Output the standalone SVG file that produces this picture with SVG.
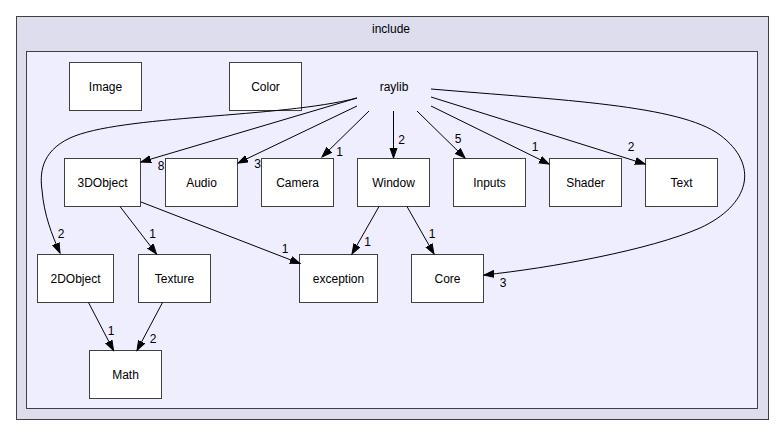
<svg xmlns="http://www.w3.org/2000/svg" width="781" height="436" viewBox="0 0 781 436">
<defs>
<style>
text{font-family:"Liberation Sans",Arial,sans-serif;font-size:12px;fill:#000;}
.n text,.c{text-anchor:middle;}
.n rect{fill:#fff;stroke:#404040;stroke-width:1;}
.e path{fill:none;stroke:#000;stroke-width:1;}
.l{text-anchor:middle;}
</style>
<marker id="a" markerUnits="userSpaceOnUse" markerWidth="12" markerHeight="9" refX="10" refY="4" orient="auto">
<path d="M0,0.5 L10,4 L0,7.5 z" fill="#000" stroke="#000" stroke-width="1"/>
</marker>
</defs>
<rect width="781" height="436" fill="#fff"/>
<g id="cluster-include">
<rect x="16.5" y="16.5" width="752" height="403" fill="#ddddee" stroke="#404040"/>
<text class="c" x="391" y="32.5">include</text>
</g>
<g id="cluster-raylib">
<rect x="26.5" y="51.5" width="731" height="357" fill="#eeeeff" stroke="#404040"/>
<text class="c" x="394" y="90.5">raylib</text>
</g>
<g class="n" id="Image"><rect x="69.5" y="62.5" width="72" height="48"/><text x="105.5" y="90.5">Image</text></g>
<g class="n" id="Color"><rect x="229.5" y="62.5" width="72" height="48"/><text x="265.5" y="90.5">Color</text></g>
<g class="n" id="3DObject"><rect x="64.5" y="158.5" width="76" height="48"/><text x="102.5" y="186.5">3DObject</text></g>
<g class="n" id="Audio"><rect x="165.5" y="158.5" width="72" height="48"/><text x="201.5" y="186.5">Audio</text></g>
<g class="n" id="Camera"><rect x="261.5" y="158.5" width="72" height="48"/><text x="297.5" y="186.5">Camera</text></g>
<g class="n" id="Window"><rect x="357.5" y="158.5" width="72" height="48"/><text x="393.5" y="186.5">Window</text></g>
<g class="n" id="Inputs"><rect x="453.5" y="158.5" width="72" height="48"/><text x="489.5" y="186.5">Inputs</text></g>
<g class="n" id="Shader"><rect x="549.5" y="158.5" width="72" height="48"/><text x="585.5" y="186.5">Shader</text></g>
<g class="n" id="Text"><rect x="645.5" y="158.5" width="72" height="48"/><text x="681.5" y="186.5">Text</text></g>
<g class="n" id="2DObject"><rect x="37.5" y="254.5" width="76" height="48"/><text x="75.5" y="282.5">2DObject</text></g>
<g class="n" id="Texture"><rect x="138.5" y="254.5" width="72" height="48"/><text x="174.5" y="282.5">Texture</text></g>
<g class="n" id="exception"><rect x="299.5" y="254.5" width="78" height="48"/><text x="338.5" y="282.5">exception</text></g>
<g class="n" id="Core"><rect x="411.5" y="254.5" width="72" height="48"/><text x="447.5" y="282.5">Core</text></g>
<g class="n" id="Math"><rect x="89.5" y="350.5" width="72" height="48"/><text x="125.5" y="378.5">Math</text></g>
<g class="e" id="edges">
<path marker-end="url(#a)" d="M357,98 C280,118 120,115 70,138 C40,152 40,175 42,190 C44,215 52,235 60,253"/>
<path marker-end="url(#a)" d="M357,98 L141,162"/>
<path marker-end="url(#a)" d="M357,106 L238,163"/>
<path marker-end="url(#a)" d="M369,111 L322,157"/>
<path marker-end="url(#a)" d="M393.5,111 L393.5,158"/>
<path marker-end="url(#a)" d="M417,111 L465,158"/>
<path marker-end="url(#a)" d="M431,106 L549,164"/>
<path marker-end="url(#a)" d="M431,97 L645,164"/>
<path marker-end="url(#a)" d="M431,89 C560,100 680,105 720,135 C760,165 750,205 700,228 C650,250 550,268 484,275"/>
<path marker-end="url(#a)" d="M120,206.5 L156.5,254"/>
<path marker-end="url(#a)" d="M141,202 L300,263.5"/>
<path marker-end="url(#a)" d="M379,206.5 L352,254"/>
<path marker-end="url(#a)" d="M407,206.5 L434,254"/>
<path marker-end="url(#a)" d="M88.5,302.5 L113.5,350.5"/>
<path marker-end="url(#a)" d="M162.5,302.5 L137,350.5"/>
<text class="l" x="61" y="237.5">2</text>
<text class="l" x="161" y="169.5">8</text>
<text class="l" x="257.5" y="167.5">3</text>
<text class="l" x="339.5" y="155.5">1</text>
<text class="l" x="401.5" y="143.5">2</text>
<text class="l" x="458" y="142.5">5</text>
<text class="l" x="535" y="151">1</text>
<text class="l" x="631" y="151">2</text>
<text class="l" x="503" y="286.5">3</text>
<text class="l" x="152.5" y="237.5">1</text>
<text class="l" x="285" y="252.5">1</text>
<text class="l" x="367.5" y="246">1</text>
<text class="l" x="432" y="237.5">1</text>
<text class="l" x="111" y="334.5">1</text>
<text class="l" x="153" y="342.5">2</text>
</g>
</svg>
